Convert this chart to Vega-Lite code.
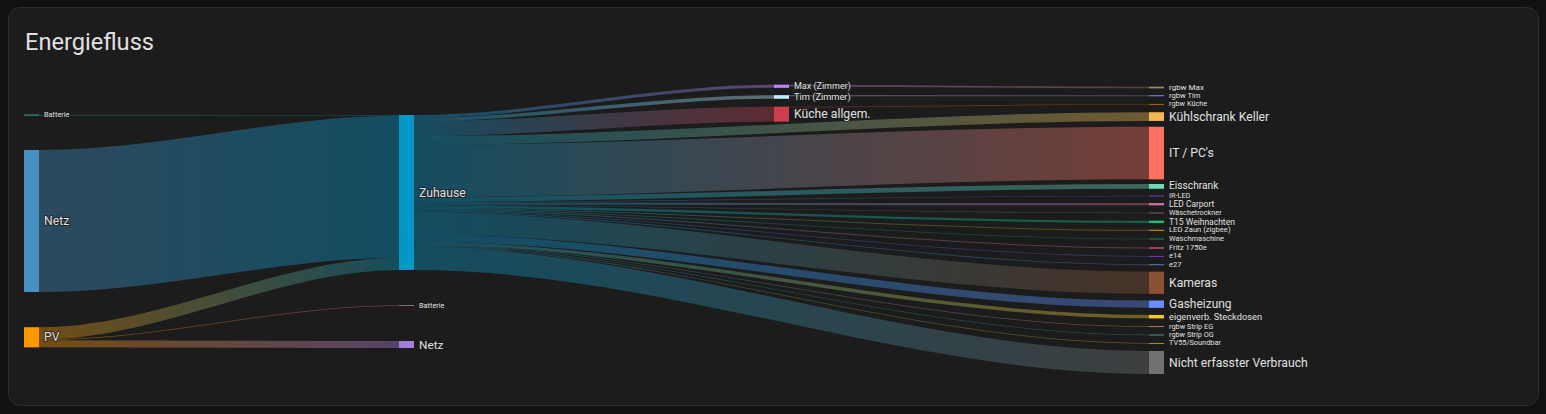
{
"$schema": "https://vega.github.io/schema/vega-lite/v6.json",
"width": 1530, "height": 398, "autosize": "none",
"padding": {"left": 8, "top": 7, "right": 8, "bottom": 9},
"background": "#111111",
"config": {"font": "Roboto", "view": {"fill": "#1c1c1c", "stroke": "#2e2e2e", "strokeWidth": 1, "cornerRadius": 12}},
"title": {"text": "Energiefluss", "anchor": "start", "frame": "group", "orient": "top", "offset": -67, "dx": 17, "baseline": "alphabetic", "fontSize": 23.6, "fontWeight": 400, "font": "Roboto", "color": "#e1e1e1"},
"datasets": {
"links": [
{"l":"L1","x":0,"a":11.47,"b":11.54},{"l":"L1","x":0.04,"a":11.47,"b":11.54},{"l":"L1","x":1,"a":11.5,"b":11.57},{"l":"L1","x":1.04,"a":11.5,"b":11.57},
{"l":"L2","x":0,"a":15.0,"b":29.2},{"l":"L2","x":0.04,"a":15.0,"b":29.2},{"l":"L2","x":1,"a":11.57,"b":25.77},{"l":"L2","x":1.04,"a":11.57,"b":25.77},
{"l":"L3","x":0,"a":32.73,"b":33.96},{"l":"L3","x":0.04,"a":32.73,"b":33.96},{"l":"L3","x":1,"a":25.77,"b":27.0},{"l":"L3","x":1.04,"a":25.77,"b":27.0},
{"l":"L4","x":0,"a":33.96,"b":34.03},{"l":"L4","x":0.04,"a":33.96,"b":34.03},{"l":"L4","x":1,"a":30.53,"b":30.6},{"l":"L4","x":1.04,"a":30.53,"b":30.6},
{"l":"L5","x":0,"a":34.03,"b":34.73},{"l":"L5","x":0.04,"a":34.03,"b":34.73},{"l":"L5","x":1,"a":34.1,"b":34.8},{"l":"L5","x":1.04,"a":34.1,"b":34.8},
{"l":"L6","x":1,"a":11.5,"b":11.8},{"l":"L6","x":1.04,"a":11.5,"b":11.8},{"l":"L6","x":2,"a":8.48,"b":8.78},{"l":"L6","x":2.04,"a":8.48,"b":8.78},
{"l":"L7","x":1,"a":11.8,"b":12.14},{"l":"L7","x":1.04,"a":11.8,"b":12.14},{"l":"L7","x":2,"a":9.53,"b":9.87},{"l":"L7","x":2.04,"a":9.53,"b":9.87},
{"l":"L8","x":1,"a":12.14,"b":13.62},{"l":"L8","x":1.04,"a":12.14,"b":13.62},{"l":"L8","x":2,"a":10.68,"b":12.16},{"l":"L8","x":2.04,"a":10.68,"b":12.16},
{"l":"L9","x":1,"a":13.62,"b":14.48},{"l":"L9","x":1.04,"a":13.62,"b":14.48},{"l":"L9","x":3,"a":11.23,"b":12.09},{"l":"L9","x":3.04,"a":11.23,"b":12.09},
{"l":"L10","x":1,"a":14.48,"b":19.73},{"l":"L10","x":1.04,"a":14.48,"b":19.73},{"l":"L10","x":3,"a":12.68,"b":17.93},{"l":"L10","x":3.04,"a":12.68,"b":17.93},
{"l":"L11","x":1,"a":19.73,"b":20.2},{"l":"L11","x":1.04,"a":19.73,"b":20.2},{"l":"L11","x":3,"a":18.4,"b":18.87},{"l":"L11","x":3.04,"a":18.4,"b":18.87},
{"l":"L12","x":1,"a":20.2,"b":20.26},{"l":"L12","x":1.04,"a":20.2,"b":20.26},{"l":"L12","x":3,"a":19.57,"b":19.63},{"l":"L12","x":3.04,"a":19.57,"b":19.63},
{"l":"L13","x":1,"a":20.26,"b":20.48},{"l":"L13","x":1.04,"a":20.26,"b":20.48},{"l":"L13","x":3,"a":20.31,"b":20.53},{"l":"L13","x":3.04,"a":20.31,"b":20.53},
{"l":"L14","x":1,"a":20.48,"b":20.54},{"l":"L14","x":1.04,"a":20.48,"b":20.54},{"l":"L14","x":3,"a":21.27,"b":21.33},{"l":"L14","x":3.04,"a":21.27,"b":21.33},
{"l":"L15","x":1,"a":20.54,"b":20.77},{"l":"L15","x":1.04,"a":20.54,"b":20.77},{"l":"L15","x":3,"a":22.07,"b":22.3},{"l":"L15","x":3.04,"a":22.07,"b":22.3},
{"l":"L16","x":1,"a":20.77,"b":20.87},{"l":"L16","x":1.04,"a":20.77,"b":20.87},{"l":"L16","x":3,"a":22.98,"b":23.08},{"l":"L16","x":3.04,"a":22.98,"b":23.08},
{"l":"L17","x":1,"a":20.87,"b":20.96},{"l":"L17","x":1.04,"a":20.87,"b":20.96},{"l":"L17","x":3,"a":23.855,"b":23.945},{"l":"L17","x":3.04,"a":23.855,"b":23.945},
{"l":"L18","x":1,"a":20.96,"b":21.06},{"l":"L18","x":1.04,"a":20.96,"b":21.06},{"l":"L18","x":3,"a":24.75,"b":24.85},{"l":"L18","x":3.04,"a":24.75,"b":24.85},
{"l":"L19","x":1,"a":21.06,"b":21.14},{"l":"L19","x":1.04,"a":21.06,"b":21.14},{"l":"L19","x":3,"a":25.59,"b":25.67},{"l":"L19","x":3.04,"a":25.59,"b":25.67},
{"l":"L20","x":1,"a":21.14,"b":21.23},{"l":"L20","x":1.04,"a":21.14,"b":21.23},{"l":"L20","x":3,"a":26.425,"b":26.515},{"l":"L20","x":3.04,"a":26.425,"b":26.515},
{"l":"L21","x":1,"a":21.23,"b":23.44},{"l":"L21","x":1.04,"a":21.23,"b":23.44},{"l":"L21","x":3,"a":27.175,"b":29.385},{"l":"L21","x":3.04,"a":27.175,"b":29.385},
{"l":"L22","x":1,"a":23.44,"b":24.16},{"l":"L22","x":1.04,"a":23.44,"b":24.16},{"l":"L22","x":3,"a":30.06,"b":30.78},{"l":"L22","x":3.04,"a":30.06,"b":30.78},
{"l":"L23","x":1,"a":24.16,"b":24.5},{"l":"L23","x":1.04,"a":24.16,"b":24.5},{"l":"L23","x":3,"a":31.495,"b":31.835},{"l":"L23","x":3.04,"a":31.495,"b":31.835},
{"l":"L24","x":1,"a":24.5,"b":24.57},{"l":"L24","x":1.04,"a":24.5,"b":24.57},{"l":"L24","x":3,"a":32.635,"b":32.705},{"l":"L24","x":3.04,"a":32.635,"b":32.705},
{"l":"L25","x":1,"a":24.57,"b":24.63},{"l":"L25","x":1.04,"a":24.57,"b":24.63},{"l":"L25","x":3,"a":33.47,"b":33.53},{"l":"L25","x":3.04,"a":33.47,"b":33.53},
{"l":"L26","x":1,"a":24.63,"b":24.7},{"l":"L26","x":1.04,"a":24.63,"b":24.7},{"l":"L26","x":3,"a":34.295,"b":34.365},{"l":"L26","x":3.04,"a":34.295,"b":34.365},
{"l":"L27","x":1,"a":24.7,"b":27.0},{"l":"L27","x":1.04,"a":24.7,"b":27.0},{"l":"L27","x":3,"a":35.1,"b":37.4},{"l":"L27","x":3.04,"a":35.1,"b":37.4},
{"l":"L28","x":2,"a":8.48,"b":8.64},{"l":"L28","x":2.04,"a":8.48,"b":8.64},{"l":"L28","x":3,"a":8.67,"b":8.83},{"l":"L28","x":3.04,"a":8.67,"b":8.83},
{"l":"L29","x":2,"a":9.53,"b":9.63},{"l":"L29","x":2.04,"a":9.53,"b":9.63},{"l":"L29","x":3,"a":9.52,"b":9.62},{"l":"L29","x":3.04,"a":9.52,"b":9.62},
{"l":"L30","x":2,"a":10.68,"b":10.74},{"l":"L30","x":2.04,"a":10.68,"b":10.74},{"l":"L30","x":3,"a":10.4,"b":10.46},{"l":"L30","x":3.04,"a":10.4,"b":10.46}
],
"nodes": [
{"id":"bat_in","label":"Batterie","c":0,"y0":11.47,"y1":11.54},
{"id":"grid_in","label":"Netz","c":0,"y0":15.0,"y1":29.2},
{"id":"pv","label":"PV","c":0,"y0":32.73,"y1":34.73},
{"id":"home","label":"Zuhause","c":1,"y0":11.5,"y1":27.0},
{"id":"bat_out","label":"Batterie","c":1,"y0":30.53,"y1":30.6},
{"id":"grid_out","label":"Netz","c":1,"y0":34.1,"y1":34.8},
{"id":"max","label":"Max (Zimmer)","c":2,"y0":8.48,"y1":8.78},
{"id":"tim","label":"Tim (Zimmer)","c":2,"y0":9.53,"y1":9.87},
{"id":"kueche","label":"Küche allgem.","c":2,"y0":10.68,"y1":12.16},
{"id":"rgbw_max","label":"rgbw Max","c":3,"y0":8.67,"y1":8.83},
{"id":"rgbw_tim","label":"rgbw Tim","c":3,"y0":9.52,"y1":9.62},
{"id":"rgbw_kueche","label":"rgbw Küche","c":3,"y0":10.4,"y1":10.46},
{"id":"kuehl","label":"Kühlschrank Keller","c":3,"y0":11.23,"y1":12.09},
{"id":"it","label":"IT / PC's","c":3,"y0":12.68,"y1":17.93},
{"id":"eis","label":"Eisschrank","c":3,"y0":18.4,"y1":18.87},
{"id":"ir","label":"IR-LED","c":3,"y0":19.57,"y1":19.63},
{"id":"carport","label":"LED Carport","c":3,"y0":20.31,"y1":20.53},
{"id":"waesche","label":"Wäschetrockner","c":3,"y0":21.27,"y1":21.33},
{"id":"t15","label":"T15 Weihnachten","c":3,"y0":22.07,"y1":22.3},
{"id":"zaun","label":"LED Zaun (zigbee)","c":3,"y0":22.98,"y1":23.08},
{"id":"waschm","label":"Waschmaschine","c":3,"y0":23.855,"y1":23.945},
{"id":"fritz","label":"Fritz 1750e","c":3,"y0":24.75,"y1":24.85},
{"id":"e14","label":"e14","c":3,"y0":25.59,"y1":25.67},
{"id":"e27","label":"e27","c":3,"y0":26.425,"y1":26.515},
{"id":"kameras","label":"Kameras","c":3,"y0":27.175,"y1":29.385},
{"id":"gas","label":"Gasheizung","c":3,"y0":30.06,"y1":30.78},
{"id":"steck","label":"eigenverb. Steckdosen","c":3,"y0":31.495,"y1":31.835},
{"id":"eg","label":"rgbw Strip EG","c":3,"y0":32.635,"y1":32.705},
{"id":"og","label":"rgbw Strip OG","c":3,"y0":33.47,"y1":33.53},
{"id":"tv","label":"TV55/Soundbar","c":3,"y0":34.295,"y1":34.365},
{"id":"nicht","label":"Nicht erfasster Verbrauch","c":3,"y0":35.1,"y1":37.4}
]
},
"layer": [
{
"data": {"name": "links"},
"encoding": {
"x": {"field": "x", "type": "quantitative", "scale": {"domain": [-0.0426667, 4.0373333], "nice": false, "zero": false}, "axis": null},
"y": {"field": "a", "type": "quantitative", "scale": {"domain": [0.7, 40.5], "reverse": true, "nice": false, "zero": false}, "axis": null},
"y2": {"field": "b"}
},
"layer": [
{"transform":[{"filter":"datum.l=='L1'"}],"mark":{"type":"area","interpolate":"monotone","opacity":0.4,"color":{"gradient":"linear","stops":[{"offset":0,"color":"#4db6ac"},{"offset":1,"color":"#0397c8"}]}}},
{"transform":[{"filter":"datum.l=='L2'"}],"mark":{"type":"area","interpolate":"monotone","opacity":0.4,"color":{"gradient":"linear","stops":[{"offset":0,"color":"#488fc2"},{"offset":1,"color":"#0397c8"}]}}},
{"transform":[{"filter":"datum.l=='L3'"}],"mark":{"type":"area","interpolate":"monotone","opacity":0.4,"color":{"gradient":"linear","stops":[{"offset":0,"color":"#ff9800"},{"offset":1,"color":"#0397c8"}]}}},
{"transform":[{"filter":"datum.l=='L4'"}],"mark":{"type":"area","interpolate":"monotone","opacity":0.4,"color":{"gradient":"linear","stops":[{"offset":0,"color":"#ff9800"},{"offset":1,"color":"#f06292"}]}}},
{"transform":[{"filter":"datum.l=='L5'"}],"mark":{"type":"area","interpolate":"monotone","opacity":0.4,"color":{"gradient":"linear","stops":[{"offset":0,"color":"#ff9800"},{"offset":1,"color":"#a57de0"}]}}},
{"transform":[{"filter":"datum.l=='L6'"}],"mark":{"type":"area","interpolate":"monotone","opacity":0.4,"color":{"gradient":"linear","stops":[{"offset":0,"color":"#0397c8"},{"offset":1,"color":"#bf80ff"}]}}},
{"transform":[{"filter":"datum.l=='L7'"}],"mark":{"type":"area","interpolate":"monotone","opacity":0.4,"color":{"gradient":"linear","stops":[{"offset":0,"color":"#0397c8"},{"offset":1,"color":"#c4eaff"}]}}},
{"transform":[{"filter":"datum.l=='L8'"}],"mark":{"type":"area","interpolate":"monotone","opacity":0.4,"color":{"gradient":"linear","stops":[{"offset":0,"color":"#0397c8"},{"offset":1,"color":"#cc3d4d"}]}}},
{"transform":[{"filter":"datum.l=='L9'"}],"mark":{"type":"area","interpolate":"monotone","opacity":0.4,"color":{"gradient":"linear","stops":[{"offset":0,"color":"#0397c8"},{"offset":1,"color":"#f2b94f"}]}}},
{"transform":[{"filter":"datum.l=='L10'"}],"mark":{"type":"area","interpolate":"monotone","opacity":0.4,"color":{"gradient":"linear","stops":[{"offset":0,"color":"#0397c8"},{"offset":1,"color":"#ff705e"}]}}},
{"transform":[{"filter":"datum.l=='L11'"}],"mark":{"type":"area","interpolate":"monotone","opacity":0.4,"color":{"gradient":"linear","stops":[{"offset":0,"color":"#0397c8"},{"offset":1,"color":"#72d6b8"}]}}},
{"transform":[{"filter":"datum.l=='L12'"}],"mark":{"type":"area","interpolate":"monotone","opacity":0.4,"color":{"gradient":"linear","stops":[{"offset":0,"color":"#0397c8"},{"offset":1,"color":"#8a4fe8"}]}}},
{"transform":[{"filter":"datum.l=='L13'"}],"mark":{"type":"area","interpolate":"monotone","opacity":0.4,"color":{"gradient":"linear","stops":[{"offset":0,"color":"#0397c8"},{"offset":1,"color":"#d06f9c"}]}}},
{"transform":[{"filter":"datum.l=='L14'"}],"mark":{"type":"area","interpolate":"monotone","opacity":0.4,"color":{"gradient":"linear","stops":[{"offset":0,"color":"#0397c8"},{"offset":1,"color":"#a0786a"}]}}},
{"transform":[{"filter":"datum.l=='L15'"}],"mark":{"type":"area","interpolate":"monotone","opacity":0.4,"color":{"gradient":"linear","stops":[{"offset":0,"color":"#0397c8"},{"offset":1,"color":"#18c07a"}]}}},
{"transform":[{"filter":"datum.l=='L16'"}],"mark":{"type":"area","interpolate":"monotone","opacity":0.4,"color":{"gradient":"linear","stops":[{"offset":0,"color":"#0397c8"},{"offset":1,"color":"#c49200"}]}}},
{"transform":[{"filter":"datum.l=='L17'"}],"mark":{"type":"area","interpolate":"monotone","opacity":0.4,"color":{"gradient":"linear","stops":[{"offset":0,"color":"#0397c8"},{"offset":1,"color":"#1a7f3c"}]}}},
{"transform":[{"filter":"datum.l=='L18'"}],"mark":{"type":"area","interpolate":"monotone","opacity":0.4,"color":{"gradient":"linear","stops":[{"offset":0,"color":"#0397c8"},{"offset":1,"color":"#e0607e"}]}}},
{"transform":[{"filter":"datum.l=='L19'"}],"mark":{"type":"area","interpolate":"monotone","opacity":0.4,"color":{"gradient":"linear","stops":[{"offset":0,"color":"#0397c8"},{"offset":1,"color":"#8040e0"}]}}},
{"transform":[{"filter":"datum.l=='L20'"}],"mark":{"type":"area","interpolate":"monotone","opacity":0.4,"color":{"gradient":"linear","stops":[{"offset":0,"color":"#0397c8"},{"offset":1,"color":"#5779bb"}]}}},
{"transform":[{"filter":"datum.l=='L21'"}],"mark":{"type":"area","interpolate":"monotone","opacity":0.4,"color":{"gradient":"linear","stops":[{"offset":0,"color":"#0397c8"},{"offset":1,"color":"#8a5233"}]}}},
{"transform":[{"filter":"datum.l=='L22'"}],"mark":{"type":"area","interpolate":"monotone","opacity":0.4,"color":{"gradient":"linear","stops":[{"offset":0,"color":"#0397c8"},{"offset":1,"color":"#698cff"}]}}},
{"transform":[{"filter":"datum.l=='L23'"}],"mark":{"type":"area","interpolate":"monotone","opacity":0.4,"color":{"gradient":"linear","stops":[{"offset":0,"color":"#0397c8"},{"offset":1,"color":"#f6c62a"}]}}},
{"transform":[{"filter":"datum.l=='L24'"}],"mark":{"type":"area","interpolate":"monotone","opacity":0.4,"color":{"gradient":"linear","stops":[{"offset":0,"color":"#0397c8"},{"offset":1,"color":"#f48758"}]}}},
{"transform":[{"filter":"datum.l=='L25'"}],"mark":{"type":"area","interpolate":"monotone","opacity":0.4,"color":{"gradient":"linear","stops":[{"offset":0,"color":"#0397c8"},{"offset":1,"color":"#5ac8a8"}]}}},
{"transform":[{"filter":"datum.l=='L26'"}],"mark":{"type":"area","interpolate":"monotone","opacity":0.4,"color":{"gradient":"linear","stops":[{"offset":0,"color":"#0397c8"},{"offset":1,"color":"#e6ab02"}]}}},
{"transform":[{"filter":"datum.l=='L27'"}],"mark":{"type":"area","interpolate":"monotone","opacity":0.4,"color":{"gradient":"linear","stops":[{"offset":0,"color":"#0397c8"},{"offset":1,"color":"#727272"}]}}},
{"transform":[{"filter":"datum.l=='L28'"}],"mark":{"type":"area","interpolate":"monotone","opacity":0.4,"color":{"gradient":"linear","stops":[{"offset":0,"color":"#bf80ff"},{"offset":1,"color":"#a0806e"}]}}},
{"transform":[{"filter":"datum.l=='L29'"}],"mark":{"type":"area","interpolate":"monotone","opacity":0.4,"color":{"gradient":"linear","stops":[{"offset":0,"color":"#c4eaff"},{"offset":1,"color":"#8c6fe6"}]}}},
{"transform":[{"filter":"datum.l=='L30'"}],"mark":{"type":"area","interpolate":"monotone","opacity":0.4,"color":{"gradient":"linear","stops":[{"offset":0,"color":"#cc3d4d"},{"offset":1,"color":"#cf8c00"}]}}}
]
},
{
"data": {"name": "nodes"},
"transform": [
{"calculate": "datum.c + 0.04", "as": "c2"},
{"calculate": "(datum.y0 + datum.y1) / 2", "as": "ym"},
{"calculate": "datum.y1 - datum.y0", "as": "v"}
],
"layer": [
{
"mark": {"type": "rect"},
"encoding": {
"x": {"field": "c", "type": "quantitative", "scale": {"domain": [-0.0426667, 4.0373333], "nice": false, "zero": false}, "axis": null},
"x2": {"field": "c2"},
"y": {"field": "y0", "type": "quantitative", "scale": {"domain": [0.7, 40.5], "reverse": true, "nice": false, "zero": false}, "axis": null},
"y2": {"field": "y1"},
"color": {"field": "id", "type": "nominal", "legend": null, "scale": {
"domain": ["bat_in","grid_in","pv","home","bat_out","grid_out","max","tim","kueche","rgbw_max","rgbw_tim","rgbw_kueche","kuehl","it","eis","ir","carport","waesche","t15","zaun","waschm","fritz","e14","e27","kameras","gas","steck","eg","og","tv","nicht"],
"range": ["#4db6ac","#488fc2","#ff9800","#0397c8","#f06292","#a57de0","#bf80ff","#c4eaff","#cc3d4d","#a0806e","#8c6fe6","#cf8c00","#f2b94f","#ff705e","#72d6b8","#8a4fe8","#d06f9c","#a0786a","#18c07a","#c49200","#1a7f3c","#e0607e","#8040e0","#5779bb","#8a5233","#698cff","#f6c62a","#f48758","#5ac8a8","#e6ab02","#727272"]}}
}
},
{
"mark": {"type": "text", "align": "left", "baseline": "middle", "dx": 5, "font": "Roboto", "stroke": "#1a1a1a", "strokeWidth": 2, "strokeOpacity": 0.7, "fill": "#1a1a1a"},
"encoding": {
"x": {"field": "c2", "type": "quantitative", "scale": {"domain": [-0.0426667, 4.0373333], "nice": false, "zero": false}, "axis": null},
"y": {"field": "ym", "type": "quantitative", "scale": {"domain": [0.7, 40.5], "reverse": true, "nice": false, "zero": false}, "axis": null},
"text": {"field": "label"},
"size": {"field": "v", "type": "quantitative", "legend": null, "scale": {"type": "linear", "domain": [0.06, 0.75], "range": [7.3, 12.2], "clamp": true, "zero": false}}
}
},
{
"mark": {"type": "text", "align": "left", "baseline": "middle", "dx": 5, "font": "Roboto", "color": "#e1e1e1"},
"encoding": {
"x": {"field": "c2", "type": "quantitative", "scale": {"domain": [-0.0426667, 4.0373333], "nice": false, "zero": false}, "axis": null},
"y": {"field": "ym", "type": "quantitative", "scale": {"domain": [0.7, 40.5], "reverse": true, "nice": false, "zero": false}, "axis": null},
"text": {"field": "label"},
"size": {"field": "v", "type": "quantitative", "legend": null, "scale": {"type": "linear", "domain": [0.06, 0.75], "range": [7.3, 12.2], "clamp": true, "zero": false}}
}
}
]
}
]
}
